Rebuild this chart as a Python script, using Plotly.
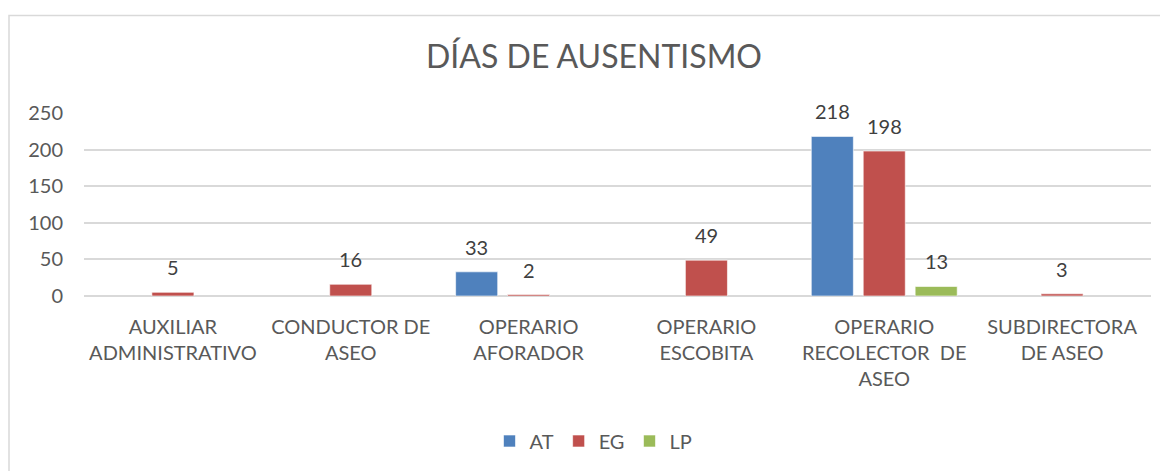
import plotly.graph_objects as go

categories = ["AUXILIAR<br>ADMINISTRATIVO", "CONDUCTOR DE<br>ASEO", "OPERARIO<br>AFORADOR",
              "OPERARIO<br>ESCOBITA", "OPERARIO<br>RECOLECTOR  DE<br>ASEO", "SUBDIRECTORA<br>DE ASEO"]
at_values = [None, None, 33, None, 218, None]
eg_values = [5, 16, 2, 49, 198, 3]
lp_values = [None, None, None, None, 13, None]
y_ticks = [0, 50, 100, 150, 200, 250]

FONT = "Lato"
TXT = "#595959"

W, H = 1160, 463
L, R, T, B = 76, 17, 105, 174
PW, PH = W - L - R, H - T - B

series = [("AT", at_values, "#4F81BD", -52), ("EG", eg_values, "#C0504D", 0), ("LP", lp_values, "#9BBB59", 52)]

fig = go.Figure()
annotations = []
for name, vals, color, dx in series:
    fig.add_trace(go.Bar(
        x=categories, y=vals, name=name,
        marker=dict(color=color, line=dict(color="rgba(255,255,255,0.6)", width=1)),
    ))
    for c, v in zip(categories, vals):
        if v is None:
            continue
        annotations.append(dict(x=c, y=v, xref="x", yref="y", text=str(v), showarrow=False,
                                xshift=dx, yshift=25, yanchor="middle",
                                font=dict(family=FONT, size=20, color="#404040")))

fig.update_layout(
    width=W, height=H,
    paper_bgcolor="white", plot_bgcolor="white",
    margin=dict(l=L, r=R, t=T, b=B),
    barmode="group", bargap=0.124, bargroupgap=0.19,
    font=dict(family=FONT, color=TXT),
    title=dict(text="DÍAS DE AUSENTISMO", x=(594 - 8 - L) / PW, xref="paper", xanchor="center",
               y=1 - 49 / H, yanchor="middle",
               font=dict(family=FONT, size=32, color=TXT)),
    showlegend=True,
    legend=dict(orientation="h", x=0.5 - 24 / PW, xanchor="center", y=(289 - 433) / PH, yanchor="middle",
                font=dict(family=FONT, size=20, color=TXT), traceorder="normal", itemwidth=30),
    xaxis=dict(showgrid=False, showline=False, ticks="outside", ticklen=13, tickcolor="rgba(0,0,0,0)",
               tickfont=dict(family=FONT, size=20, color=TXT), tickangle=0),
    yaxis=dict(range=[0, 250], tickvals=y_ticks, showgrid=True, gridcolor="#D9D9D9", gridwidth=1.5,
               zeroline=True, zerolinecolor="#D9D9D9", zerolinewidth=1.5, showline=False,
               tickfont=dict(family=FONT, size=20, color=TXT), ticks="outside", ticklen=16,
               tickcolor="rgba(0,0,0,0)"),
    annotations=annotations,
    shapes=[dict(type="rect", xref="paper", yref="paper",
                 x0=(1 - L) / PW, x1=(W + 30 - L) / PW, y0=(289 - H - 30) / PH, y1=(289 - 7) / PH,
                 line=dict(color="#D9D9D9", width=1.5), fillcolor="rgba(0,0,0,0)", layer="below")],
)

fig.write_html("out.html")
